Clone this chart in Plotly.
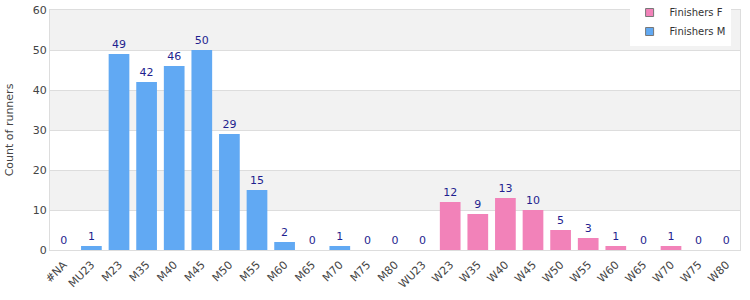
import plotly.graph_objects as go

categories = ["#NA", "MU23", "M23", "M35", "M40", "M45", "M50", "M55", "M60", "M65",
              "M70", "M75", "M80", "WU23", "W23", "W35", "W40", "W45", "W50", "W55",
              "W60", "W65", "W70", "W75", "W80"]
male_values = [0, 1, 49, 42, 46, 50, 29, 15, 2, 0, 1, 0, 0, None, None, None, None,
               None, None, None, None, None, None, None, None]
female_values = [None, None, None, None, None, None, None, None, None, None, None, None,
                 None, 0, 12, 9, 13, 10, 5, 3, 1, 0, 1, 0, 0]
y_ticks = [0, 10, 20, 30, 40, 50, 60]

font_family = "DejaVu Sans, Verdana, sans-serif"
label_color = "#1f1f8f"
pink = "#f282b9"
blue = "#61a9f3"


def fmt(v):
    return "" if v is None else str(v)


fig = go.Figure()
fig.add_trace(go.Bar(
    name="Finishers F", x=categories, y=female_values, showlegend=False,
    marker=dict(color=pink, line=dict(width=0)),
    text=[fmt(v) for v in female_values], textposition="outside",
    textfont=dict(color=label_color, size=11, family=font_family),
    cliponaxis=False,
))
fig.add_trace(go.Bar(
    name="Finishers M", x=categories, y=male_values, showlegend=False,
    marker=dict(color=blue, line=dict(width=0)),
    text=[fmt(v) for v in male_values], textposition="outside",
    textfont=dict(color=label_color, size=11, family=font_family),
    cliponaxis=False,
))
# legend entries with small square markers
for nm, col in (("Finishers F", pink), ("Finishers M", blue)):
    fig.add_trace(go.Scatter(
        name=nm, x=[None], y=[None], mode="markers",
        marker=dict(symbol="square", size=8, color=col, line=dict(color="#777", width=1)),
    ))

shapes = []
for lo in (10, 30, 50):
    shapes.append(dict(type="rect", xref="paper", yref="y", x0=0, x1=1, y0=lo, y1=lo + 10,
                       fillcolor="#f2f2f2", line=dict(width=0), layer="below"))

fig.update_layout(
    width=750, height=300,
    margin=dict(l=50, r=10, t=10, b=50, autoexpand=False),
    barmode="overlay", bargap=0.25,
    plot_bgcolor="white", paper_bgcolor="white",
    font=dict(family=font_family, size=11, color="#444"),
    shapes=shapes,
    legend=dict(x=0.84, y=1.05, xanchor="left", yanchor="top",
                bgcolor="white", font=dict(size=10, color="#333"),
                itemwidth=30, tracegroupgap=0, traceorder="normal"),
    uniformtext=dict(minsize=11, mode="show"),
)
fig.update_xaxes(
    type="category", tickangle=-45, showgrid=False, showline=True,
    linecolor="#dddddd", mirror=True, ticks="", tickfont=dict(size=11, color="#444"),
    ticklabelstandoff=3,
)
fig.update_yaxes(
    range=[0, 60], tickvals=y_ticks, showgrid=True, gridcolor="#dddddd",
    showline=True, linecolor="#dddddd", mirror=True, zeroline=False,
    tickfont=dict(size=11, color="#444"),
    title=dict(text="Count of runners", font=dict(size=11, color="#444"), standoff=16),
)

fig.write_html("out.html")
